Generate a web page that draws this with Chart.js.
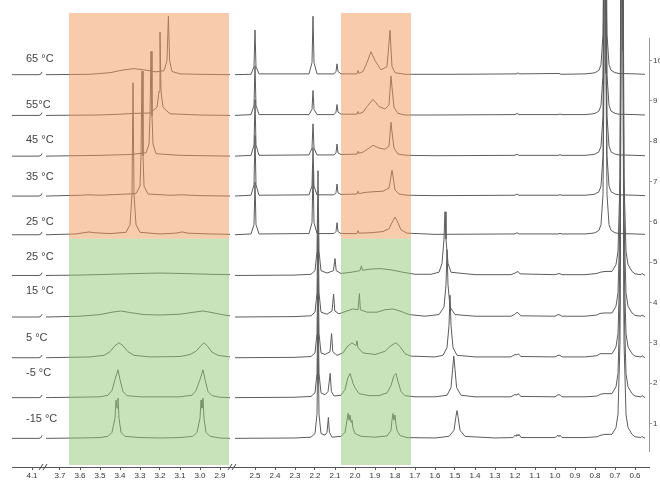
<!DOCTYPE html>
<html lang="en">
<head>
<meta charset="UTF-8">
<title>Variable temperature 1H NMR stack</title>
<script src="https://cdn.jsdelivr.net/npm/chart.js"></script>
<style>
  html, body { margin: 0; padding: 0; background: #fff; }
  #wrap { width: 660px; height: 483px; }
</style>
</head>
<body>
<div id="wrap"><canvas id="nmr"></canvas></div>
<script>
// temperatures, bottom trace first
const temps = ['-15 °C', '-5 °C', '5 °C', '15 °C', '25 °C', '25 °C', '35 °C', '45 °C', '55°C', '65 °C'];
// vertical offset of each trace (units of the right-hand axis)
const offsets = [0.63, 1.64, 2.63, 3.64, 4.67, 5.68, 6.64, 7.63, 8.64, 9.65];
// x tick labels (ppm)
const ppmTicks = [4.1, 3.7, 3.6, 3.5, 3.4, 3.3, 3.2, 3.1, 3.0, 2.9,
  2.5, 2.4, 2.3, 2.2, 2.1, 2.0, 1.9, 1.8, 1.7, 1.6, 1.5, 1.4, 1.3, 1.2, 1.1, 1.0, 0.9, 0.8, 0.7, 0.6];
const yTicks = [1, 2, 3, 4, 5, 6, 7, 8, 9, 10];

// spectra as [ppm, intensity]
const segA = [[4.2, 0], [4.065, 0], [4.055, 0.02], [4.05, 0.07]];
const bigFootGreen = [[0.715, 0.1], [0.695, 0.27], [0.685, 0.6], [0.675, 2.4], [0.67, 9.6], [0.665, 20], [0.66, 9.6], [0.655, 2.4], [0.645, 0.6], [0.635, 0.27], [0.615, 0.1], [0.6, 0.04], [0.57, 0.02], [0.565, 0.05], [0.55, 0]];
const bigFootOrange = [[0.85, 0.02], [0.81, 0.04], [0.8, 0.05], [0.78, 0.11], [0.77, 0.25], [0.76, 1.0], [0.755, 4], [0.75, 20], [0.745, 4], [0.74, 1.0], [0.73, 0.25], [0.72, 0.11], [0.7, 0.05], [0.68, 0.03], [0.6, 0.02], [0.55, 0.01]];

const specM15 = [...segA,
  [3.77, 0], [3.6, 0.01], [3.5, 0.02], [3.46, 0.05], [3.44, 0.15], [3.425, 0.5], [3.42, 0.95], [3.415, 0.75], [3.41, 1.0], [3.405, 0.5], [3.395, 0.15], [3.375, 0.05], [3.3, 0.02], [3.2, 0.01], [3.1, 0.02], [3.035, 0.05], [3.015, 0.15], [3.0, 0.5], [2.995, 0.95], [2.99, 0.75], [2.985, 1.0], [2.98, 0.5], [2.97, 0.15], [2.95, 0.05], [2.9, 0.01], [2.85, 0],
  [2.6, 0], [2.3, 0.01], [2.22, 0.03], [2.2, 0.12], [2.19, 0.6], [2.185, 2.6], [2.18, 0.6], [2.17, 0.12], [2.15, 0.08], [2.14, 0.15], [2.133, 0.52], [2.128, 0.15], [2.115, 0.03], [2.07, 0.05], [2.05, 0.15], [2.04, 0.45], [2.035, 0.62], [2.03, 0.45], [2.025, 0.58], [2.02, 0.4], [2.015, 0.45], [2.01, 0.25], [2.0, 0.12], [1.97, 0.05], [1.9, 0.03], [1.84, 0.06], [1.82, 0.2], [1.815, 0.45], [1.81, 0.62], [1.805, 0.45], [1.8, 0.58], [1.795, 0.35], [1.79, 0.2], [1.775, 0.07], [1.74, 0.02], [1.6, 0.01], [1.53, 0.05], [1.505, 0.2], [1.495, 0.55], [1.49, 0.69], [1.485, 0.55], [1.475, 0.2], [1.45, 0.05], [1.3, 0.01], [1.21, 0.02], [1.2, 0.08], [1.195, 0.05], [1.19, 0.1], [1.185, 0.06], [1.18, 0.1], [1.17, 0.02], [1.0, 0.02], [0.985, 0.08], [0.98, 0.04], [0.975, 0.08], [0.965, 0.02], [0.85, 0.02], [0.79, 0.04], [0.77, 0.08], [0.75, 0.1],
  ...bigFootGreen];

const specM5 = [...segA,
  [3.77, 0], [3.5, 0.02], [3.46, 0.06], [3.44, 0.18], [3.425, 0.45], [3.41, 0.69], [3.4, 0.45], [3.385, 0.15], [3.365, 0.05], [3.3, 0.02], [3.1, 0.02], [3.04, 0.06], [3.02, 0.18], [3.0, 0.45], [2.985, 0.69], [2.975, 0.45], [2.96, 0.15], [2.94, 0.05], [2.9, 0.01], [2.85, 0],
  [2.6, 0], [2.3, 0.01], [2.22, 0.03], [2.2, 0.12], [2.19, 0.6], [2.185, 2.6], [2.18, 0.6], [2.17, 0.12], [2.15, 0.07], [2.135, 0.15], [2.124, 0.6], [2.118, 0.15], [2.105, 0.04], [2.07, 0.06], [2.05, 0.2], [2.035, 0.5], [2.025, 0.6], [2.015, 0.45], [2.01, 0.35], [2.0, 0.25], [1.98, 0.1], [1.93, 0.05], [1.88, 0.05], [1.84, 0.12], [1.82, 0.3], [1.805, 0.55], [1.795, 0.6], [1.785, 0.4], [1.77, 0.15], [1.75, 0.05], [1.7, 0.02], [1.6, 0.02], [1.54, 0.06], [1.52, 0.25], [1.512, 0.7], [1.506, 1.03], [1.5, 0.7], [1.492, 0.25], [1.47, 0.06], [1.4, 0.02], [1.22, 0.02], [1.2, 0.08], [1.19, 0.06], [1.185, 0.1], [1.17, 0.03], [1.0, 0.02], [0.985, 0.07], [0.975, 0.07], [0.965, 0.02], [0.85, 0.02], [0.79, 0.04], [0.77, 0.09], [0.75, 0.1],
  ...bigFootGreen];

const spec5 = [...segA,
  [3.77, 0], [3.55, 0.02], [3.48, 0.06], [3.45, 0.15], [3.425, 0.3], [3.405, 0.37], [3.385, 0.3], [3.36, 0.15], [3.33, 0.06], [3.25, 0.02], [3.1, 0.03], [3.05, 0.08], [3.02, 0.16], [2.995, 0.3], [2.98, 0.37], [2.965, 0.3], [2.94, 0.14], [2.91, 0.06], [2.85, 0.02],
  [2.6, 0], [2.3, 0.01], [2.22, 0.03], [2.2, 0.12], [2.19, 0.6], [2.185, 2.6], [2.18, 0.6], [2.17, 0.12], [2.15, 0.08], [2.125, 0.15], [2.117, 0.6], [2.111, 0.15], [2.09, 0.06], [2.06, 0.12], [2.04, 0.27], [2.015, 0.37], [1.995, 0.3], [1.99, 0.42], [1.985, 0.25], [1.96, 0.12], [1.9, 0.08], [1.85, 0.16], [1.82, 0.3], [1.795, 0.37], [1.775, 0.28], [1.75, 0.1], [1.72, 0.04], [1.6, 0.02], [1.56, 0.06], [1.54, 0.25], [1.53, 0.8], [1.525, 1.55], [1.52, 0.8], [1.51, 0.25], [1.49, 0.06], [1.4, 0.02], [1.22, 0.02], [1.2, 0.08], [1.19, 0.07], [1.185, 0.1], [1.17, 0.03], [1.0, 0.02], [0.985, 0.06], [0.975, 0.06], [0.965, 0.02], [0.85, 0.02], [0.79, 0.05], [0.775, 0.1], [0.75, 0.1],
  ...bigFootGreen];

const spec15 = [...segA,
  [3.77, 0], [3.6, 0.02], [3.5, 0.06], [3.44, 0.12], [3.395, 0.15], [3.35, 0.11], [3.28, 0.06], [3.2, 0.05], [3.1, 0.07], [3.03, 0.12], [2.985, 0.15], [2.94, 0.11], [2.88, 0.05], [2.85, 0.03],
  [2.6, 0], [2.3, 0.01], [2.22, 0.03], [2.2, 0.12], [2.19, 0.6], [2.185, 2.6], [2.18, 0.6], [2.17, 0.12], [2.14, 0.07], [2.115, 0.15], [2.107, 0.57], [2.101, 0.15], [2.08, 0.08], [2.04, 0.15], [2.01, 0.2], [1.985, 0.18], [1.978, 0.58], [1.973, 0.18], [1.94, 0.12], [1.89, 0.12], [1.85, 0.18], [1.81, 0.2], [1.77, 0.14], [1.73, 0.06], [1.65, 0.02], [1.58, 0.06], [1.555, 0.25], [1.545, 0.8], [1.54, 1.67], [1.535, 0.8], [1.525, 0.25], [1.5, 0.06], [1.4, 0.02], [1.22, 0.02], [1.2, 0.07], [1.19, 0.12], [1.185, 0.1], [1.17, 0.03], [1.0, 0.02], [0.985, 0.06], [0.975, 0.05], [0.965, 0.02], [0.85, 0.02], [0.79, 0.05], [0.775, 0.09], [0.75, 0.1],
  ...bigFootGreen];

const spec25g = [...segA,
  [3.77, 0], [3.6, 0.01], [3.45, 0.03], [3.3, 0.05], [3.2, 0.06], [3.1, 0.05], [2.95, 0.03], [2.85, 0.02],
  [2.6, 0], [2.3, 0.01], [2.22, 0.03], [2.2, 0.12], [2.19, 0.6], [2.185, 2.6], [2.18, 0.6], [2.17, 0.12], [2.14, 0.06], [2.108, 0.12], [2.1, 0.42], [2.094, 0.12], [2.07, 0.05], [2.02, 0.08], [1.975, 0.12], [1.968, 0.24], [1.963, 0.13], [1.92, 0.16], [1.875, 0.17], [1.82, 0.14], [1.76, 0.08], [1.7, 0.03], [1.62, 0.03], [1.58, 0.08], [1.565, 0.3], [1.555, 0.9], [1.55, 1.58], [1.545, 0.9], [1.535, 0.3], [1.52, 0.08], [1.4, 0.02], [1.22, 0.02], [1.2, 0.06], [1.185, 0.1], [1.175, 0.04], [1.0, 0.02], [0.98, 0.05], [0.965, 0.02], [0.85, 0.02], [0.79, 0.05], [0.775, 0.08], [0.75, 0.1],
  ...bigFootGreen];

const spec25o = [...segA,
  [3.77, 0], [3.62, 0.02], [3.58, 0.05], [3.555, 0.07], [3.53, 0.05], [3.45, 0.03], [3.37, 0.06], [3.35, 0.25], [3.34, 1.0], [3.335, 3.77], [3.33, 1.0], [3.32, 0.25], [3.3, 0.06], [3.2, 0.02], [3.12, 0.04], [3.09, 0.07], [3.06, 0.04], [2.95, 0.02], [2.85, 0.01],
  [2.6, 0], [2.52, 0.02], [2.505, 0.25], [2.5, 1.3], [2.495, 0.25], [2.48, 0.02], [2.23, 0.03], [2.215, 0.3], [2.21, 1.6], [2.205, 0.3], [2.19, 0.03], [2.105, 0.03], [2.095, 0.08], [2.09, 0.3], [2.085, 0.08], [2.07, 0.03], [1.99, 0.03], [1.985, 0.1], [1.98, 0.04], [1.92, 0.05], [1.86, 0.08], [1.83, 0.15], [1.81, 0.35], [1.8, 0.44], [1.79, 0.35], [1.77, 0.12], [1.74, 0.04], [1.6, 0.01], [1.2, 0.02], [1.19, 0.05], [1.18, 0.02], [0.98, 0.02], [0.975, 0.04], [0.97, 0.02],
  ...bigFootOrange];

const spec35 = [...segA,
  [3.77, 0], [3.6, 0.02], [3.555, 0.03], [3.5, 0.02], [3.32, 0.06], [3.3, 0.25], [3.295, 1.0], [3.29, 3.1], [3.285, 1.0], [3.28, 0.25], [3.26, 0.05], [3.15, 0.02], [3.09, 0.03], [3.0, 0.01], [2.85, 0],
  [2.6, 0], [2.52, 0.02], [2.505, 0.28], [2.5, 1.5], [2.495, 0.28], [2.48, 0.02], [2.23, 0.03], [2.215, 0.25], [2.21, 1.2], [2.205, 0.25], [2.19, 0.03], [2.105, 0.03], [2.095, 0.08], [2.09, 0.3], [2.085, 0.08], [2.07, 0.04], [1.99, 0.05], [1.985, 0.12], [1.98, 0.06], [1.95, 0.09], [1.9, 0.11], [1.86, 0.12], [1.83, 0.2], [1.815, 0.64], [1.81, 0.5], [1.8, 0.15], [1.78, 0.05], [1.74, 0.02], [1.6, 0.01], [1.2, 0.02], [1.19, 0.05], [1.18, 0.02], [0.98, 0.02], [0.975, 0.04], [0.97, 0.02],
  ...bigFootOrange];

const spec45 = [...segA,
  [3.77, 0], [3.5, 0.02], [3.35, 0.04], [3.27, 0.08], [3.255, 0.3], [3.25, 1.0], [3.245, 2.6], [3.24, 1.0], [3.235, 0.3], [3.22, 0.06], [3.1, 0.02], [2.85, 0],
  [2.6, 0], [2.52, 0.02], [2.505, 0.27], [2.5, 1.4], [2.495, 0.27], [2.48, 0.02], [2.23, 0.03], [2.215, 0.2], [2.21, 0.8], [2.205, 0.2], [2.19, 0.03], [2.105, 0.03], [2.095, 0.08], [2.09, 0.3], [2.085, 0.08], [2.07, 0.04], [1.99, 0.05], [1.985, 0.12], [1.98, 0.07], [1.96, 0.1], [1.93, 0.2], [1.91, 0.27], [1.88, 0.2], [1.85, 0.17], [1.83, 0.25], [1.82, 0.84], [1.815, 0.6], [1.805, 0.2], [1.785, 0.05], [1.74, 0.02], [1.6, 0.01], [1.2, 0.02], [1.19, 0.05], [1.18, 0.02], [0.98, 0.02], [0.975, 0.04], [0.97, 0.02],
  ...bigFootOrange];

const spec55 = [...segA,
  [3.77, 0], [3.5, 0.01], [3.4, 0.03], [3.33, 0.05], [3.25, 0.06], [3.215, 0.2], [3.205, 0.6], [3.2, 2.07], [3.195, 0.6], [3.185, 0.2], [3.15, 0.04], [3.0, 0.01], [2.85, 0],
  [2.6, 0], [2.52, 0.02], [2.505, 0.25], [2.5, 1.23], [2.495, 0.25], [2.48, 0.02], [2.23, 0.02], [2.215, 0.15], [2.21, 0.62], [2.205, 0.15], [2.19, 0.02], [2.105, 0.02], [2.095, 0.08], [2.09, 0.27], [2.085, 0.08], [2.07, 0.03], [1.99, 0.03], [1.985, 0.1], [1.98, 0.04], [1.96, 0.08], [1.94, 0.22], [1.91, 0.4], [1.88, 0.22], [1.85, 0.16], [1.83, 0.26], [1.82, 0.98], [1.815, 0.7], [1.805, 0.2], [1.785, 0.05], [1.75, 0.01], [1.6, 0.01], [1.2, 0.02], [1.19, 0.05], [1.18, 0.02], [0.98, 0.02], [0.975, 0.04], [0.97, 0.02],
  ...bigFootOrange];

const spec65 = [...segA,
  [3.77, 0], [3.55, 0.01], [3.45, 0.05], [3.38, 0.12], [3.33, 0.15], [3.28, 0.12], [3.22, 0.07], [3.18, 0.1], [3.165, 0.35], [3.158, 1.45], [3.152, 0.35], [3.14, 0.08], [3.1, 0.02], [3.0, 0.01], [2.85, 0],
  [2.6, 0], [2.52, 0.01], [2.505, 0.2], [2.5, 1.11], [2.495, 0.2], [2.48, 0.02], [2.23, 0.02], [2.215, 0.3], [2.21, 1.45], [2.205, 0.3], [2.19, 0.02], [2.105, 0.02], [2.095, 0.08], [2.09, 0.27], [2.085, 0.08], [2.07, 0.02], [1.99, 0.02], [1.985, 0.1], [1.98, 0.03], [1.96, 0.08], [1.94, 0.3], [1.92, 0.57], [1.9, 0.35], [1.87, 0.12], [1.84, 0.2], [1.825, 1.1], [1.815, 0.2], [1.8, 0.05], [1.75, 0.01], [1.5, 0.01], [1.19, 0.02], [1.185, 0.05], [1.18, 0.02], [0.98, 0.03], [0.97, 0.01],
  ...bigFootOrange];

const spectra = [specM15, specM5, spec5, spec15, spec25g, spec25o, spec35, spec45, spec55, spec65];

// broken ppm axis: each segment keeps 0.1 ppm = same width
const segments = [
  { hi: 4.2, lo: 4.05, u0: 0 },
  { hi: 3.77, lo: 2.85, u0: 0.17 },
  { hi: 2.6, lo: 0.55, u0: 1.115 }
];
function segIndex(ppm) {
  return segments.findIndex(s => ppm <= s.hi + 1e-9 && ppm >= s.lo - 1e-9);
}
function toU(ppm) {
  const s = segments[segIndex(ppm)];
  return s.u0 + (s.hi - ppm);
}

const datasets = spectra.map((spec, i) => {
  const pts = [];
  let last = -1;
  spec.forEach(([ppm, h]) => {
    const k = segIndex(ppm);
    if (last !== -1 && k !== last) pts.push({ x: toU(ppm) - 0.01, y: null });
    pts.push({ x: toU(ppm), y: offsets[i] + h });
    last = k;
  });
  return {
    label: temps[i],
    data: pts,
    borderColor: '#5c5c5c',
    borderWidth: 1,
    pointRadius: 0,
    tension: 0,
    spanGaps: false,
    clip: false
  };
});

// shaded regions: [ppm from, ppm to, y from, y to, colour]
const bands = [
  [3.655, 2.855, 5.58, 11.18, 'rgba(239,151,89,0.5)'],
  [3.655, 2.855, -0.03, 5.58, 'rgba(145,197,117,0.5)'],
  [2.07, 1.72, 5.58, 11.18, 'rgba(239,151,89,0.5)'],
  [2.07, 1.72, -0.03, 5.58, 'rgba(145,197,117,0.5)']
];
const labelLift = [0.47, 0.6, 0.5, 0.64, 0.47, 0.32, 0.47, 0.39, 0.25, 0.39];

const decor = {
  id: 'decor',
  afterDatasetsDraw(chart) {
    const { ctx, scales: { x, y } } = chart;
    ctx.save();
    bands.forEach(([p1, p2, y1, y2, c]) => {
      const xa = x.getPixelForValue(toU(p1));
      const xb = x.getPixelForValue(toU(p2));
      const ya = y.getPixelForValue(y2);
      const yb = y.getPixelForValue(y1);
      ctx.fillStyle = c;
      ctx.fillRect(xa, ya, xb - xa, yb - ya);
    });
    ctx.restore();
  },
  afterDraw(chart) {
    const { ctx, chartArea, scales: { x, y } } = chart;
    ctx.save();
    // temperature labels
    ctx.fillStyle = '#444';
    ctx.font = '11px "Liberation Sans", Arial, sans-serif';
    ctx.textBaseline = 'middle';
    temps.forEach((t, i) => {
      ctx.fillText(t, 26, y.getPixelForValue(offsets[i] + labelLift[i]));
    });
    // right axis line
    ctx.strokeStyle = '#999';
    ctx.lineWidth = 1;
    ctx.beginPath();
    ctx.moveTo(chartArea.right + 0.5, y.getPixelForValue(10.56));
    ctx.lineTo(chartArea.right + 0.5, y.getPixelForValue(0.29));
    ctx.stroke();
    // axis break marks
    ctx.strokeStyle = '#444';
    const yb = chartArea.bottom;
    [0.16, 1.105].forEach(u => {
      const px = x.getPixelForValue(u);
      [-3, 1].forEach(d => {
        ctx.beginPath();
        ctx.moveTo(px + d - 2, yb + 3);
        ctx.lineTo(px + d + 2, yb - 3);
        ctx.stroke();
      });
    });
    ctx.restore();
  }
};

new Chart(document.getElementById('nmr'), {
  type: 'line',
  data: { datasets },
  options: {
    responsive: true,
    maintainAspectRatio: false,
    animation: false,
    layout: { padding: { left: 12, top: 13, right: 0, bottom: 0 } },
    plugins: { legend: { display: false }, tooltip: { enabled: false } },
    scales: {
      x: {
        type: 'linear',
        min: 0,
        max: 3.185,
        afterBuildTicks: s => { s.ticks = ppmTicks.map(v => ({ value: toU(v) })); },
        afterFit: s => { s.height = 16; },
        ticks: {
          autoSkip: false,
          maxRotation: 0,
          padding: 1,
          color: '#333',
          font: { size: 8, family: '"Liberation Sans", Arial, sans-serif' },
          callback: (v, i) => ppmTicks[i].toFixed(1)
        },
        grid: { drawOnChartArea: false, tickLength: 3, color: '#555' },
        border: { color: '#555' }
      },
      y: {
        position: 'right',
        min: -0.08,
        max: 11.18,
        afterBuildTicks: s => { s.ticks = yTicks.map(v => ({ value: v })); },
        afterFit: s => { s.width = 11; },
        ticks: {
          padding: 1,
          color: '#444',
          font: { size: 8, family: '"Liberation Sans", Arial, sans-serif' }
        },
        grid: { drawOnChartArea: false, tickLength: 3, color: '#999' },
        border: { display: false }
      }
    }
  },
  plugins: [decor]
});
</script>
</body>
</html>
